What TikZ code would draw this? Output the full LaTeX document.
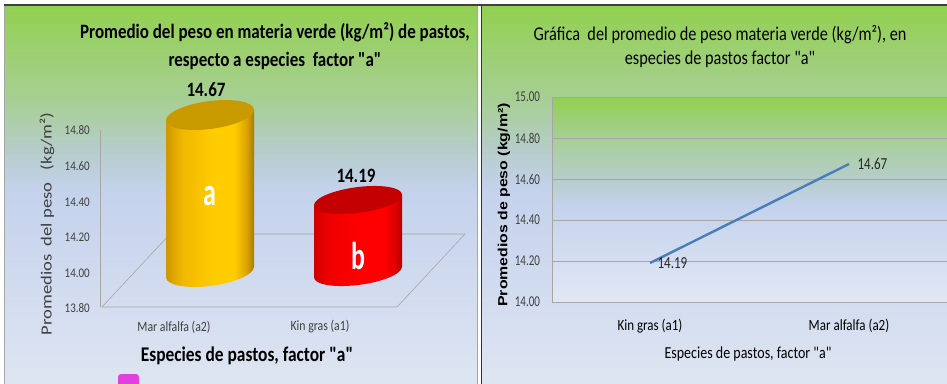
\documentclass[tikz,border=0pt]{standalone}
\usepackage{fontspec}
\setmainfont{Carlito}[Ligatures=TeXOff]
\newfontfamily\arialf{Liberation Sans}
\definecolor{c1}{HTML}{92D050}
\definecolor{c2}{HTML}{A8CF98}
\definecolor{c3}{HTML}{B6CDCB}
\definecolor{c4}{HTML}{C4D2EC}
\definecolor{c5}{HTML}{DEE5F2}
\definecolor{p5}{HTML}{E2E8F4}
\definecolor{yd1}{HTML}{CF9800}
\definecolor{ym1}{HTML}{F0B800}
\definecolor{ylight}{HTML}{FFCC00}
\definecolor{yd2}{HTML}{D9A200}
\definecolor{yd3}{HTML}{A67A00}
\definecolor{ytopc}{HTML}{C99A00}
\definecolor{rd1}{HTML}{D00000}
\definecolor{rm1}{HTML}{F00000}
\definecolor{rlight}{HTML}{FF0000}
\definecolor{rd2}{HTML}{E00000}
\definecolor{rd3}{HTML}{B00000}
\definecolor{rtopc}{HTML}{C40000}
\definecolor{txtgray}{HTML}{404040}
\definecolor{gridc}{HTML}{A6A6A6}
\definecolor{linec}{HTML}{4A7EBB}
\definecolor{pinkc}{HTML}{E040E0}
\pgfdeclareverticalshading{panelsh}{100bp}{color(0bp)=(c5); color(25bp)=(c5); color(50.5bp)=(c4); color(55.8bp)=(c3); color(61.8bp)=(c2); color(75bp)=(c1); color(100bp)=(c1)}
\pgfdeclareverticalshading{plotsh}{100bp}{color(0bp)=(p5); color(25bp)=(p5); color(48.5bp)=(c4); color(55bp)=(c3); color(64.5bp)=(c2); color(75bp)=(c1); color(100bp)=(c1)}
\pgfdeclarehorizontalshading{ycyl}{100bp}{color(0bp)=(yd1); color(25bp)=(yd1); color(34bp)=(ym1); color(52bp)=(ylight); color(64bp)=(ylight); color(71bp)=(yd2); color(75bp)=(yd3); color(100bp)=(yd3)}
\pgfdeclarehorizontalshading{rcyl}{100bp}{color(0bp)=(rd1); color(25bp)=(rd1); color(34bp)=(rm1); color(52bp)=(rlight); color(64bp)=(rlight); color(71bp)=(rd2); color(75bp)=(rd3); color(100bp)=(rd3)}
\tikzset{
  every node/.style={yscale=1.2},
  ttl/.style={font=\bfseries\fontsize{17}{23}\selectfont, align=center, text=black},
  ttlr/.style={font=\fontsize{16.3}{20}\selectfont, align=center, text=black},
  tickl/.style={font=\fontsize{11}{11}\selectfont, text=txtgray, anchor=east, inner sep=1pt},
  tickr/.style={font=\fontsize{12.5}{12.5}\selectfont, text=txtgray, anchor=east, inner sep=1pt, xscale=0.88},
  valb/.style={font=\bfseries\fontsize{17}{17}\selectfont, text=black},
  catl/.style={font=\fontsize{11.8}{11.8}\selectfont, text=txtgray},
  catr/.style={font=\fontsize{13}{13}\selectfont, text=black},
  datl/.style={font=\fontsize{14}{14}\selectfont, text=black!85, anchor=west, inner sep=1pt, xscale=0.93},
  inlab/.style={font=\bfseries\fontsize{26}{26}\selectfont, text=white, yscale=1.25},
  floor/.style={draw=gridc, line width=0.6pt},
  grid/.style={draw=gridc, line width=0.9pt},
}
\begin{document}
\begin{tikzpicture}[x=1pt,y=-1pt]
\useasboundingbox (0,0) rectangle (947,383);
\fill[white] (0,0) rectangle (947,383);
% ---------- left panel ----------
\shade[shading=panelsh] (4,5) rectangle (477,383);
\draw[gray!70, line width=0.8pt] (4,390) -- (4,5) (477,5) -- (477,390);
\node[ttl] (lt) at (275,46) {Promedio del peso en materia verde (kg/m²) de pastos,\\respecto a especies\ \ factor "a"};
% axis and floor
\draw[floor] (100,130) -- (100,307);
\coordinate (f1) at (102,307);
\coordinate (f2) at (397,307);
\coordinate (f3) at (465,234);
\coordinate (f4) at (170,234);
\draw[floor] (f1) -- (f2) -- (f3) -- (f4) -- cycle;
\node[tickl] (l80) at (91,130) {14.80};
\node[tickl] (l60) at (91,166) {14.60};
\node[tickl] (l40) at (91,202) {14.40};
\node[tickl] (l20) at (91,237) {14.20};
\node[tickl] (l00) at (91,273) {14.00};
\node[tickl] (l380) at (91,308) {13.80};
\node[rotate=90, font=\fontsize{15.5}{15.5}\selectfont, text=txtgray] (lyt) at (47,224) {Promedios\ \ del peso\ \ \ (kg/m²)};
% yellow cylinder
\begin{scope}[shift={(210,0)}, yslant=0.12]
  \shade[shading=ycyl] (-44,115) -- (-44,272) arc[start angle=180, end angle=0, x radius=44, y radius=14] -- (44,115) -- cycle;
  \fill[ytopc] (0,115) ellipse[x radius=44, y radius=14];
\end{scope}
% red cylinder
\begin{scope}[shift={(358,0)}, yslant=0.12]
  \shade[shading=rcyl] (-44,200) -- (-44,272) arc[start angle=180, end angle=0, x radius=44, y radius=13] -- (44,200) -- cycle;
  \fill[rtopc] (0,200) ellipse[x radius=44, y radius=13];
\end{scope}
\node[inlab] (la) at (210,196) {a};
\node[inlab] (lb) at (358,256) {b};
\node[valb] (v1) at (206,90) {14.67};
\node[valb] (v2) at (356,176) {14.19};
\node[catl] (c1) at (174,327) {Mar alfalfa (a2)};
\node[catl] (c2) at (320,327) {Kin gras (a1)};
\node[font=\bfseries\fontsize{17.4}{17.4}\selectfont] (lxt) at (247,356) {Especies de pastos, factor "a"};
\fill[pinkc, rounded corners=3pt] (118,374) rectangle (139,392);
% ---------- right panel ----------
\shade[shading=panelsh] (481,5) rectangle (947,383);
\draw[black!75, line width=2pt] (4,5) -- (947,5);
\draw[black!80, line width=1pt] (481,5) -- (481,390);
\node[ttlr] (rt) at (720,47) {Gráfica\ \ del promedio de peso materia verde (kg/m²), en\\especies de pastos factor "a"};
\shade[shading=plotsh] (552,97) rectangle (947,302);
\foreach \yy in {97,138,179,220,261}{
  \draw[grid] (552,\yy) -- (947,\yy);
}
\draw[grid] (552,97) -- (552,302) -- (947,302);
\node[tickr] (r15) at (541,97) {15.00};
\node[tickr] (r14) at (541,138) {14.80};
\node[tickr] (r13) at (541,179) {14.60};
\node[tickr] (r12) at (541,220) {14.40};
\node[tickr] (r11) at (541,261) {14.20};
\node[tickr] (r10) at (541,302) {14.00};
\coordinate (p1) at (650,263);
\coordinate (p2) at (849,164);
\draw[linec, line width=2.4pt] (p1) -- (p2);
\node[datl] (d1) at (p1) [xshift=7pt] {14.19};
\node[datl] (d2) at (p2) [xshift=8pt] {14.67};
\node[catr] (k1) at (650,326) {Kin gras (a1)};
\node[catr] (k2) at (849,326) {Mar alfalfa (a2)};
\node[font=\fontsize{14}{14}\selectfont] (rxt) at (748,354) {Especies de pastos, factor "a"};
\node[rotate=90, font=\arialf\bfseries\fontsize{13.2}{13.2}\selectfont] (ryt) at (504,205) {Promedios de peso (kg/m²)};
\end{tikzpicture}
\end{document}
